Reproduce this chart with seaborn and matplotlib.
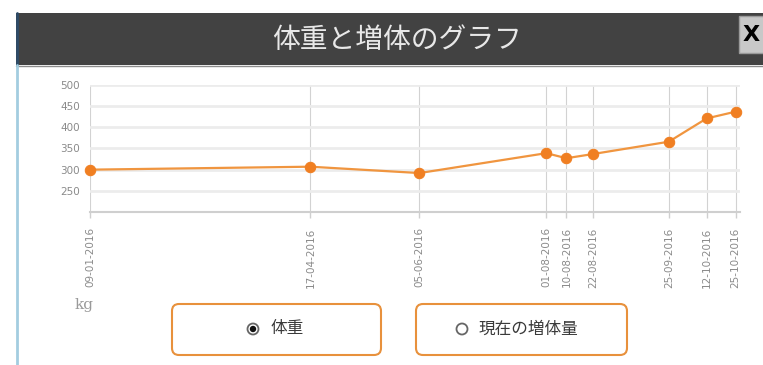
import matplotlib
matplotlib.use("Agg")
import numpy as np
import pandas as pd
import seaborn as sns
import matplotlib.pyplot as plt
import matplotlib.dates as mdates
from matplotlib.patches import Rectangle, FancyBboxPatch, Circle

# weighing dates and body weight (kg)
dates = ["2016-01-09", "2016-04-17", "2016-06-05", "2016-08-01", "2016-08-10",
         "2016-08-22", "2016-09-25", "2016-10-12", "2016-10-25"]
weights = [300, 307, 292, 339, 327, 337, 366, 421, 437]
y_ticks = [250, 300, 350, 400, 450, 500]
title = "体重と増体のグラフ"
unit = "kg"
button_labels = ["体重", "現在の増体量"]

sns.set_theme(style="white")
plt.rcParams["font.family"] = ["Noto Sans CJK JP", "DejaVu Sans"]

W, H = 763, 365
fig = plt.figure(figsize=(W / 100, H / 100), dpi=100)
fig.patch.set_facecolor("white")

# pixel-space layer for the dialog frame, title bar and buttons
bg = fig.add_axes([0, 0, 1, 1], zorder=0)
bg.set_xlim(0, W)
bg.set_ylim(H, 0)
bg.axis("off")

bg.add_patch(Rectangle((16, 13), W - 16, 52, facecolor="#424242", edgecolor="none"))
bg.plot([16, W], [65.5, 65.5], color="#8c8c8c", lw=1)
bg.plot([16.5, 16.5], [13, 65], color="#2e4b68", lw=2)
bg.plot([16.5, 16.5], [65, H], color="#a3cde0", lw=2)
bg.text(397, 40, title, color="#e8e8e8", fontsize=20, ha="center", va="center")

# close button
bg.add_patch(Rectangle((739, 16), 30, 37, facecolor="#c8c8c8", edgecolor="#9a9a9a", lw=1))
bg.text(751, 35, "X", color="black", fontsize=16, fontweight="bold",
        family="DejaVu Sans", ha="center", va="center")

# unit label
bg.text(84, 305, unit, family="DejaVu Serif", fontsize=11, color="#9a9a9a",
        ha="center", va="center")

# toggle buttons
for (x0, x1), label, checked, rx in zip([(172, 381), (416, 627)], button_labels,
                                        [True, False], [253, 462]):
    bg.add_patch(FancyBboxPatch((x0, 304), x1 - x0, 51,
                                boxstyle="round,pad=0,rounding_size=7",
                                facecolor="white", edgecolor="#e8913c", lw=1.5))
    bg.add_patch(Circle((rx, 329), 5.5, facecolor="white", edgecolor="#666666", lw=1.3))
    if checked:
        bg.add_patch(Circle((rx, 329), 3.2, facecolor="#111111", edgecolor="none"))
    bg.text(rx + 17, 329, label, fontsize=12, color="#3a3a3a", ha="left", va="center")

# weight chart
x = pd.to_datetime(dates)
ax = fig.add_axes([90 / W, 1 - 212 / H, 650 / W, 127 / H], zorder=2)
ax.patch.set_alpha(0)

sns.lineplot(x=x, y=weights, ax=ax, color="#f0953f", lw=1.6, marker="o",
             markersize=7.5, markerfacecolor="#f07f22", markeredgecolor="#f07f22",
             clip_on=False, zorder=3)

ax.set_xlim(x[0], x[-1] + pd.Timedelta(days=2))
ax.set_ylim(200, 500)
ax.set_yticks(y_ticks)
ax.set_xticks(x)
ax.xaxis.set_major_formatter(mdates.DateFormatter("%d-%m-%Y"))
ax.set_xlabel("")
ax.set_ylabel("")

ax.grid(axis="y", color="#ececec", lw=2)
ax.grid(axis="x", color="#d2d2d2", lw=0.8)
ax.set_axisbelow(True)
for side in ["top", "right", "left"]:
    ax.spines[side].set_visible(False)
ax.spines["bottom"].set_color("#cfcfcf")
ax.spines["bottom"].set_linewidth(1.5)

ax.tick_params(axis="x", bottom=True, length=4, width=1, color="#cfcfcf", pad=7,
               labelsize=7.5, labelcolor="#8a8a8a", labelrotation=90)
ax.tick_params(axis="y", left=False, length=0, pad=7, labelsize=7.5,
               labelcolor="#8a8a8a")
for lab in ax.get_xticklabels() + ax.get_yticklabels():
    lab.set_family("DejaVu Sans")

fig.savefig("out.png", dpi=100)
